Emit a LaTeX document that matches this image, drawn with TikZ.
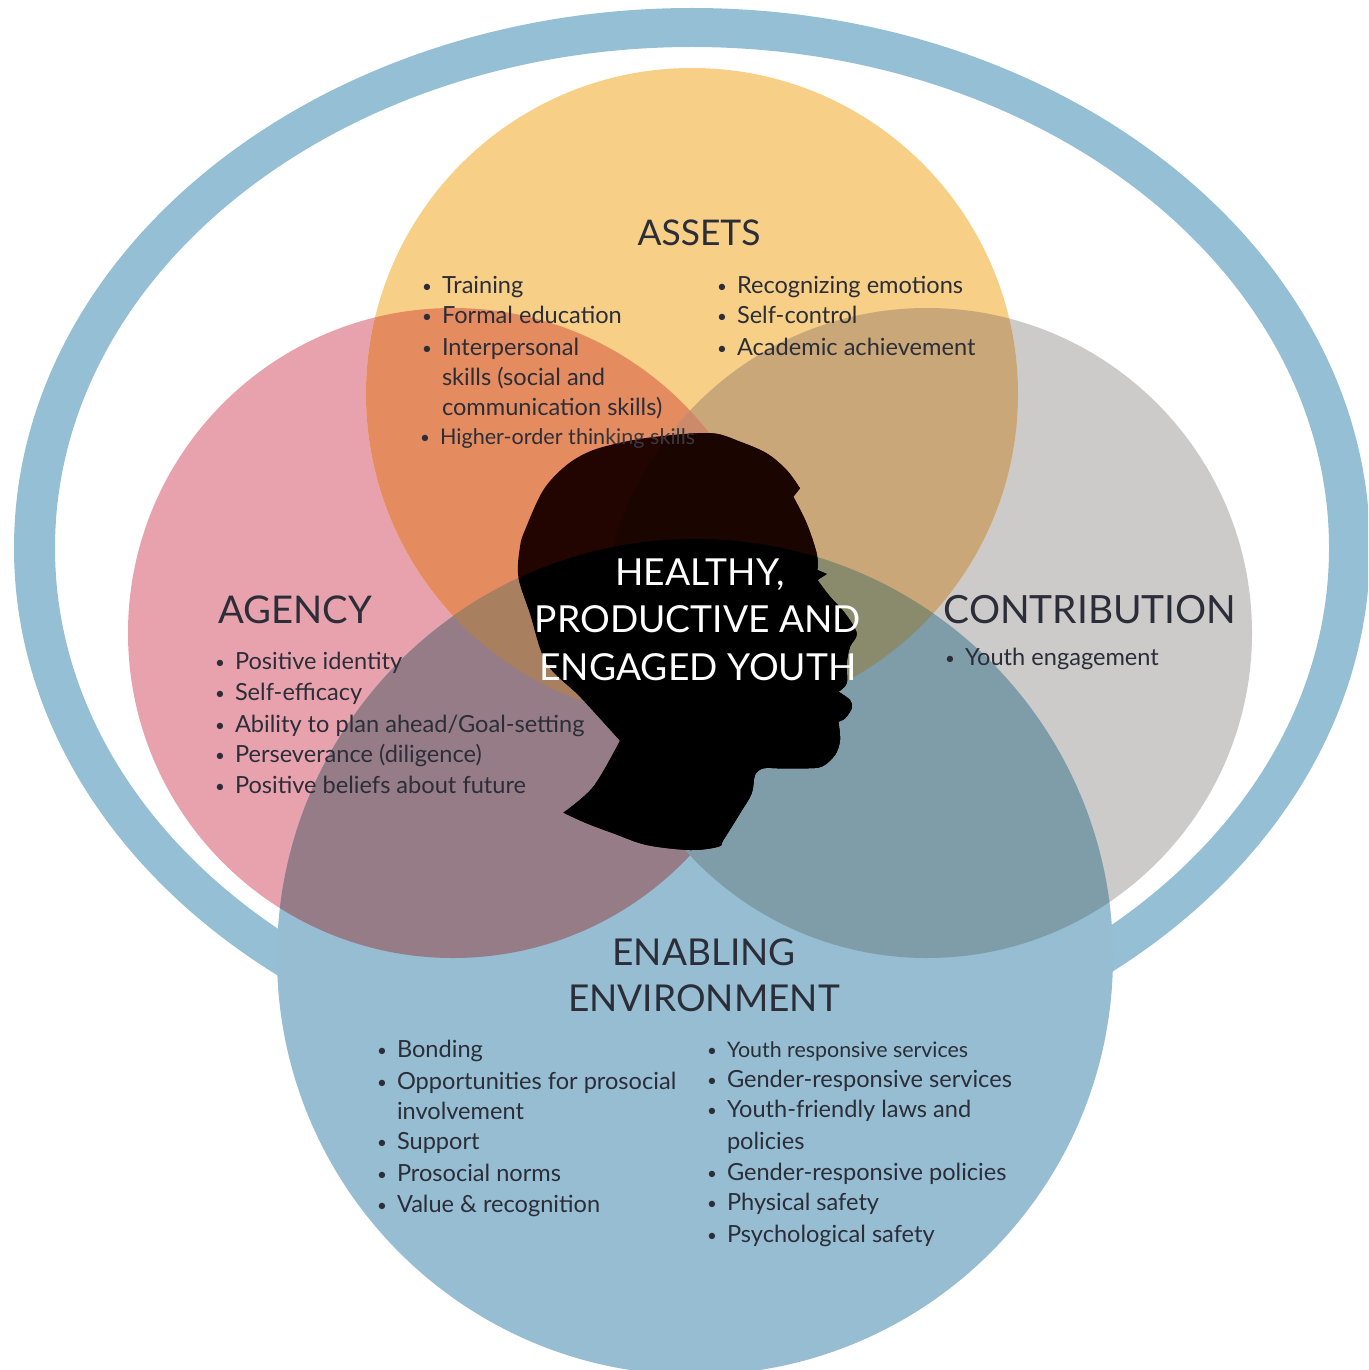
\documentclass[tikz,border=0pt]{standalone}
\usepackage{fontspec}
\setmainfont{Lato}
\definecolor{ringc}{HTML}{95BFD5}
\definecolor{assetc}{HTML}{F7CF87}
\definecolor{agencyc}{HTML}{E8A2AE}
\definecolor{contrc}{HTML}{CDCACA}
\definecolor{enablec}{HTML}{96BDD2}
\definecolor{aAg}{HTML}{E58B60}
\definecolor{aCo}{HTML}{CAA778}
\definecolor{agE}{HTML}{967C87}
\definecolor{coE}{HTML}{7F9CA9}
\definecolor{aAgE}{HTML}{A8805F}
\definecolor{aCoE}{HTML}{8A8A6C}
\definecolor{aAgCo}{HTML}{CC8A6A}
\definecolor{inkc}{HTML}{2B2E38}
\definecolor{headtop}{HTML}{220400}
\definecolor{headright}{HTML}{1A0500}
\definecolor{dimink}{HTML}{3A383C}
\def\CA{(692,394) circle[radius=326]}
\def\CG{(453,633) circle[radius=325]}
\def\CC{(927,633) circle[radius=325]}
\def\CE{(695,957) circle[radius=418]}
\def\headshape{plot[smooth,tension=.55] coordinates {(420,1022) (300,890) (200,790) (150,640) (115,530) (120,440) (135,390) (190,270) (260,195) (340,150) (460,120) (580,105) (700,100) (780,125) (860,160) (920,210) (960,265)}
 -- (940,290) -- plot[smooth,tension=.55] coordinates {(940,290) (980,370) (1010,460) (1012,510)}
 -- (1040,522) -- (1012,540) -- plot[smooth,tension=.55] coordinates {(1012,540) (1050,590) (1095,640) (1130,700) (1110,740) (1100,790) (1100,850) (1075,875)}
 -- plot[smooth,tension=.55] coordinates {(1075,875) (1110,900) (1115,925) (1095,955) (1075,965)}
 -- plot[smooth,tension=.55] coordinates {(1075,965) (1080,1020) (1065,1065) (1025,1100) (970,1105) (900,1105) (850,1105) (825,1125) (815,1180) (780,1240) (730,1320) (715,1340) (630,1350) (500,1335) (400,1300) (320,1270) (250,1238)}
 -- plot[smooth,tension=.55] coordinates {(250,1238) (340,1160) (420,1022)} -- cycle}
\tikzset{
 x=1pt,y=-1pt,
 headscope/.style={shift={(480,400)},x=.33333pt,y=-.33333pt},
 listline/.style={anchor=base west,inner sep=0pt,outer sep=0pt,text=inkc,font=\fontsize{23.6}{28}\selectfont},
 titleline/.style={anchor=base,inner sep=0pt,outer sep=0pt,text=inkc,font=\fontsize{37}{44}\selectfont},
 centreline/.style={anchor=base,inner sep=0pt,outer sep=0pt,text=white,font=\fontsize{37.2}{44}\selectfont},
}
\newcommand{\sz}[1]{\fontsize{#1}{28}\selectfont}
\newcommand{\bul}[4]{\node[listline] (#1) at (#2-6,#3-2) {\makebox[25pt][l]{\hspace{5pt}\raisebox{1pt}{\sz{17}•}}#4};}
\newcommand{\nob}[4]{\node[listline] (#1) at (#2-6,#3-2) {\makebox[25pt][l]{}#4};}
\begin{document}
\begin{tikzpicture}
\useasboundingbox (0,0) rectangle (1368,1370);
\begin{scope}
\clip (0,0) rectangle (1368,1370);
\fill[ringc,even odd rule] (692,548) ellipse[x radius=678,y radius=540] (692,548) ellipse[x radius=637,y radius=501];
\fill[agencyc] \CG;
\fill[contrc] \CC;
\fill[assetc] \CA;
\fill[enablec] \CE;
\begin{scope}\clip \CA; \fill[aAg] \CG; \fill[aCo] \CC; \end{scope}
\begin{scope}\clip \CE; \fill[agE] \CG; \fill[coE] \CC; \end{scope}
\begin{scope}\clip \CA; \clip \CG; \fill[aAgCo] \CC; \end{scope}
\begin{scope}\clip \CA; \clip \CE; \fill[aAgE] \CG; \end{scope}
\begin{scope}\clip \CA; \clip \CE; \fill[aCoE] \CC; \end{scope}
\begin{scope}\clip \CA; \clip \CE; \clip \CG; \fill[aAgE] \CC; \end{scope}
\end{scope}
% assets
\node[titleline,font=\fontsize{35.4}{44}\selectfont] (tassets) at (699,245) {ASSETS};
\bul{a1}{423}{295}{Training}
\bul{a2}{423}{325}{Formal education}
\bul{a3}{423}{357}{Interpersonal}
\nob{a4}{423}{387}{skills (social and}
\nob{a5}{423}{417}{communication skills)}
\bul{a7}{718}{295}{Recognizing emotions}
\bul{a8}{718}{325}{Self-control}
\bul{a9}{718}{357}{Academic achievement}
% agency
\node[titleline,font=\fontsize{38.2}{44}\selectfont] (tagency) at (295,623) {AGENCY};
\bul{g1}{216}{671}{Positive identity}
\bul{g2}{216}{702}{Self-efficacy}
\bul{g3}{216}{734}{Ability to plan ahead/Goal-setting}
\bul{g4}{216}{764}{Perseverance (diligence)}
\bul{g5}{216}{795}{Positive beliefs about future}
% contribution
\node[titleline,font=\fontsize{38.9}{44}\selectfont] (tcontr) at (1090,623) {CONTRIBUTION};
\bul{c1}{946}{667}{Youth engagement}
% enabling
\node[titleline] (tenab) at (704,965) {ENABLING};
\node[titleline] (tenv) at (704,1011) {ENVIRONMENT};
\bul{e1}{378}{1059}{Bonding}
\bul{e2}{378}{1091}{Opportunities for prosocial}
\nob{e3}{378}{1121}{involvement}
\bul{e4}{378}{1151}{Support}
\bul{e5}{378}{1183}{Prosocial norms}
\bul{e6}{378}{1214}{Value \& recognition}
\bul{f1}{708}{1059}{\sz{21.4}Youth responsive services}
\bul{f2}{708}{1089}{Gender-responsive services}
\bul{f3}{708}{1119}{Youth-friendly laws and}
\nob{f4}{708}{1151}{policies}
\bul{f5}{708}{1182}{Gender-responsive policies}
\bul{f6}{708}{1212}{Physical safety}
\bul{f7}{708}{1244}{Psychological safety}
% head
\begin{scope}[headscope]
\fill[headtop] \headshape;
\end{scope}
\begin{scope}
\clip \CC;
\begin{scope}[headscope]
\fill[headright] \headshape;
\end{scope}
\end{scope}
\begin{scope}
\clip \CE;
\begin{scope}[headscope]
\fill[black] \headshape;
\end{scope}
\end{scope}
\bul{a6}{421}{446}{\sz{21.6}Higher-order thin{\color{dimink}king skills}}
\node[centreline] (h1) at (700,585) {HEALTHY,};
\node[centreline] (h2) at (698,632) {PRODUCTIVE AND};
\node[centreline] (h3) at (698,680) {ENGAGED YOUTH};
\end{tikzpicture}
\end{document}
